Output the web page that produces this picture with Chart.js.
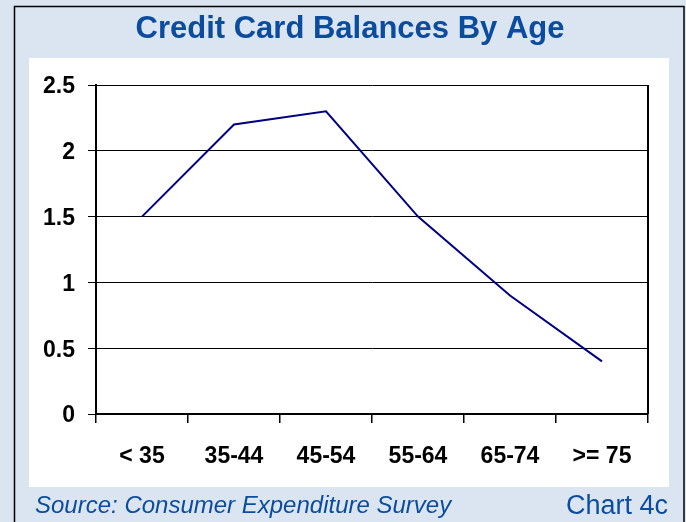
<!DOCTYPE html>
<html>
<head>
<meta charset="utf-8">
<script src="https://cdn.jsdelivr.net/npm/chart.js@4.4.1/dist/chart.umd.min.js"></script>
<style>
  html, body { margin: 0; padding: 0; background: #fff; }
  canvas { display: block; }
</style>
</head>
<body>
<canvas id="balanceChart" width="686" height="522"></canvas>
<script>
// datos del grafico
const ageGroups = ['< 35', '35-44', '45-54', '55-64', '65-74', '>= 75'];
const balances = [1.5, 2.2, 2.3, 1.5, 0.9, 0.4];
const yTickLabels = ['0', '0.5', '1', '1.5', '2', '2.5'];

const chartTitle = 'Credit Card Balances By Age';
const sourceText = 'Source: Consumer Expenditure Survey';
const chartTag = 'Chart 4c';

const blueText = '#0b4c9f';

// fondo azul, panel blanco, marco y textos
const framePlugin = {
    id: 'frame',
    beforeDraw(chart) {
        const c = chart.ctx;
        c.save();
        c.fillStyle = '#dbe5f1';
        c.fillRect(0, 0, chart.width, chart.height);
        c.fillStyle = '#ffffff';
        c.fillRect(29, 58, 640, 429);
        c.strokeStyle = '#000';
        c.lineWidth = 1.5;
        c.beginPath();
        c.moveTo(14.5, chart.height);
        c.lineTo(14.5, 6.5);
        c.lineTo(684, 6.5);
        c.lineTo(684, chart.height);
        c.stroke();

        c.fillStyle = blueText;
        c.textBaseline = 'alphabetic';
        c.font = 'bold 31px "Liberation Sans", Arial, sans-serif';
        c.textAlign = 'center';
        c.fillText(chartTitle, 350, 38);

        c.font = 'italic 24px "Liberation Sans", Arial, sans-serif';
        c.textAlign = 'left';
        c.fillText(sourceText, 35, 513);
        c.font = '27px "Liberation Sans", Arial, sans-serif';
        c.textAlign = 'right';
        c.fillText(chartTag, 668, 514);
        c.restore();
    },
    afterDraw(chart) {
        // borde derecho del area de trazado
        const a = chart.chartArea;
        const c = chart.ctx;
        c.save();
        c.strokeStyle = '#000';
        c.lineWidth = 2;
        c.beginPath();
        c.moveTo(a.right, a.top);
        c.lineTo(a.right, a.bottom);
        c.stroke();
        c.restore();
    }
};

const ctx = document.getElementById('balanceChart').getContext('2d');
new Chart(ctx, {
    type: 'line',
    data: {
        labels: ageGroups,
        datasets: [{
            data: balances,
            borderColor: '#000080',
            borderWidth: 2,
            pointRadius: 0,
            tension: 0,
            fill: false
        }]
    },
    options: {
        responsive: false,
        animation: false,
        layout: { padding: { top: 85, right: 38, bottom: 0, left: 0 } },
        plugins: {
            legend: { display: false },
            title: { display: false },
            tooltip: { enabled: false }
        },
        scales: {
            x: {
                offset: true,
                afterFit: scale => { scale.height = 108; },
                grid: {
                    offset: true,
                    drawOnChartArea: false,
                    drawTicks: true,
                    tickLength: 9,
                    color: '#000',
                    lineWidth: 1.5
                },
                border: { display: true, color: '#000', width: 2 },
                ticks: {
                    color: '#000',
                    padding: 20,
                    maxRotation: 0,
                    font: { family: '"Liberation Sans", Arial, sans-serif', size: 23, weight: 'bold' }
                }
            },
            y: {
                min: 0,
                max: 2.5,
                afterFit: scale => { scale.width = 96; },
                grid: {
                    color: '#000',
                    lineWidth: 1,
                    tickLength: 8
                },
                border: { display: true, color: '#000', width: 2 },
                ticks: {
                    stepSize: 0.5,
                    color: '#000',
                    padding: 13,
                    labelOffset: 2,
                    callback: (v, i) => yTickLabels[i],
                    font: { family: '"Liberation Sans", Arial, sans-serif', size: 23, weight: 'bold' }
                }
            }
        }
    },
    plugins: [framePlugin]
});
</script>
</body>
</html>
